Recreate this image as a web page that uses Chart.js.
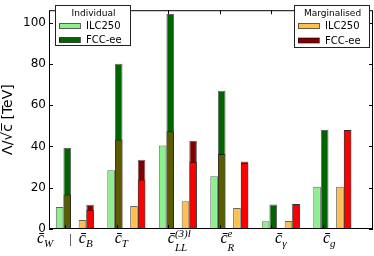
<!DOCTYPE html>
<html>
<head>
<meta charset="utf-8">
<script src="https://cdn.jsdelivr.net/npm/chart.js@4.4.1/dist/chart.umd.min.js"></script>
<style>
  html, body { margin: 0; padding: 0; background: #fff; }
</style>
</head>
<body>
<canvas id="chartCanvas" width="374" height="256"></canvas>
<script>
// operators along the x axis (first group holds c_W for individual and c_B for marginalised)
const categories = ['c̄_W | c̄_B', 'c̄_T', 'c̄_LL^(3)l', 'c̄_R^e', 'c̄_γ', 'c̄_g'];

// Lambda / sqrt(c) reach in TeV, individual fits
const ilcIndividual = [10.7, 28.5, 40.5, 25.6, 3.7, 20.5];
const fccIndividualLow = [16.7, 43.3, 47.4, 36.3, null, null];
const fccIndividual = [39.2, 80.0, 104.2, 67.0, 11.9, 48.0];

// marginalised fits
const ilcMarginalised = [4.3, 11.2, 13.5, 10.2, 3.9, 20.5];
const fccMarginalisedLow = [9.3, 24.0, 32.6, 32.1, 12.1, 48.0];
const fccMarginalised = [11.8, 33.5, 42.6, 32.7, 12.1, 48.0];

const yTicks = [0, 20, 40, 60, 80, 100];

const colors = {
  ilcInd: '#8cf08c',
  fccIndLow: '#5b5b00',
  fccInd: '#006400',
  ilcMarg: '#ffbf4d',
  fccMargLow: '#ff0000',
  fccMarg: '#800000'
};
const edge = 'rgba(0,0,0,0.6)';

function bars(values) {
  return values.map((v, i) => ({ x: i, y: v }));
}

function makeSet(label, values, color, stack) {
  return {
    label: label,
    data: bars(values),
    backgroundColor: color,
    borderColor: edge,
    borderWidth: 1,
    borderSkipped: 'start',
    stack: stack,
    barPercentage: 1,
    categoryPercentage: 0.74
  };
}

// split "c̄_LL^(3)l" into base, subscript, superscript
function parseLabel(s) {
  const m = s.match(/^([^_^]+)(?:_([^^]+))?(?:\^(.+))?$/);
  return { base: m[1], sub: m[2] || '', sup: m[3] || '' };
}

const baseFont = 'italic 16px "Liberation Serif"';
const smallFont = 'italic 11px "Liberation Serif"';

function mathWidth(ctx, label) {
  if (label === '|') { ctx.font = '13px "Liberation Serif"'; return ctx.measureText('|').width; }
  const p = parseLabel(label);
  ctx.font = baseFont;
  const wb = ctx.measureText(p.base).width;
  ctx.font = smallFont;
  return wb + Math.max(ctx.measureText(p.sub).width, ctx.measureText(p.sup).width);
}

function drawMath(ctx, label, x0, y) {
  if (label === '|') {
    ctx.font = '13px "Liberation Serif"';
    ctx.fillText('|', x0, y);
    return;
  }
  const p = parseLabel(label);
  ctx.font = baseFont;
  const wb = ctx.measureText(p.base).width;
  ctx.fillText(p.base, x0, y);
  ctx.font = smallFont;
  ctx.fillText(p.sub, x0 + wb, y + (p.sup ? 8 : 4));
  if (p.sup) ctx.fillText(p.sup, x0 + wb, y - 6);
}

function drawLegend(ctx, box, title, items) {
  ctx.fillStyle = '#fff';
  ctx.fillRect(box.x, box.y, box.w, box.h);
  ctx.strokeStyle = '#222';
  ctx.lineWidth = 1;
  ctx.strokeRect(box.x + 0.5, box.y + 0.5, box.w, box.h);
  ctx.fillStyle = '#000';
  ctx.textBaseline = 'middle';
  ctx.textAlign = 'center';
  ctx.font = '9px "DejaVu Sans"';
  ctx.fillText(title, box.x + box.w / 2 + 1, box.y + 8.5);
  ctx.textAlign = 'left';
  ctx.font = '10px "DejaVu Sans"';
  items.forEach((it, i) => {
    const cy = box.y + box.rows[i];
    ctx.fillStyle = it.color;
    ctx.fillRect(box.x + 4, cy - 2.5, 21, 5);
    ctx.strokeStyle = edge;
    ctx.strokeRect(box.x + 4.5, cy - 2.5, 21, 5);
    ctx.fillStyle = '#000';
    ctx.fillText(it.label, box.x + 31, cy + 0.5);
  });
}

const framePlugin = {
  id: 'frame',
  afterDatasetsDraw(chart) {
    const { ctx, chartArea: a, scales } = chart;
    ctx.save();
    ctx.strokeStyle = '#000';
    ctx.lineWidth = 1;
    ctx.strokeRect(a.left + 0.5, a.top + 0.5, a.right - a.left - 1, a.bottom - a.top - 1);
    ctx.beginPath();
    yTicks.forEach(v => {
      const py = Math.round(scales.y.getPixelForValue(v)) + 0.5;
      ctx.moveTo(a.left, py); ctx.lineTo(a.left + 4, py);
      ctx.moveTo(a.right, py); ctx.lineTo(a.right - 4, py);
    });
    categories.forEach((c, i) => {
      const px = Math.round(scales.x.getPixelForValue(i - 0.19)) + 0.5;
      ctx.moveTo(px, a.top); ctx.lineTo(px, a.top + 4);
      ctx.moveTo(px, a.bottom); ctx.lineTo(px, a.bottom - 4);
    });
    ctx.stroke();
    ctx.restore();
  },
  afterDraw(chart) {
    const { ctx, scales } = chart;
    ctx.save();
    // x labels
    const shift = [-10, -5, 1.5, -2, 0, -3];
    ctx.fillStyle = '#000';
    ctx.textBaseline = 'alphabetic';
    ctx.textAlign = 'left';
    categories.forEach((label, i) => {
      const parts = label.split(' | ');
      const pieces = parts.length > 1 ? [parts[0], '|', parts[1]] : parts;
      const gaps = [16, 7];
      const widths = pieces.map(p => mathWidth(ctx, p));
      let total = widths.reduce((s, w) => s + w, 0);
      for (let k = 0; k < pieces.length - 1; k++) total += gaps[k];
      let x0 = scales.x.getPixelForValue(i) + shift[i] - total / 2;
      pieces.forEach((p, k) => {
        drawMath(ctx, p, x0, 243);
        x0 += widths[k] + (gaps[k] || 0);
      });
    });
    // the two legends
    const ds = chart.data.datasets;
    drawLegend(ctx, { x: 55, y: 5, w: 75, h: 40, rows: [21, 35] }, 'Individual',
      [{ label: ds[0].label, color: ds[0].backgroundColor }, { label: ds[2].label, color: ds[2].backgroundColor }]);
    drawLegend(ctx, { x: 294, y: 5, w: 75, h: 42, rows: [21, 35.5] }, 'Marginalised',
      [{ label: ds[4].label, color: ds[4].backgroundColor }, { label: ds[6].label, color: ds[6].backgroundColor }]);
    ctx.restore();
  }
};

const ctx = document.getElementById('chartCanvas').getContext('2d');
const chart = new Chart(ctx, {
  type: 'bar',
  data: {
    datasets: [
      makeSet('ILC250', ilcIndividual, colors.ilcInd, 'indILC'),
      makeSet('FCC-ee (low)', fccIndividualLow, colors.fccIndLow, 'indFCC'),
      makeSet('FCC-ee', fccIndividual, colors.fccInd, 'indFCC'),
      makeSet('', categories.map(() => null), 'rgba(0,0,0,0)', 'gap'),
      makeSet('ILC250', ilcMarginalised, colors.ilcMarg, 'margILC'),
      makeSet('FCC-ee (low)', fccMarginalisedLow, colors.fccMargLow, 'margFCC'),
      makeSet('FCC-ee', fccMarginalised, colors.fccMarg, 'margFCC')
    ]
  },
  options: {
    responsive: false,
    animation: false,
    devicePixelRatio: 1,
    layout: { padding: { top: 1, right: 1, left: 0, bottom: 0 } },
    plugins: {
      legend: { display: false },
      tooltip: { enabled: false }
    },
    scales: {
      x: {
        type: 'linear',
        offset: false,
        stacked: true,
        min: -0.502,
        max: 5.79,
        grid: { display: false, offset: false },
        border: { display: false },
        ticks: { display: false },
        afterBuildTicks: s => { s.ticks = categories.map((c, i) => ({ value: i })); },
        afterFit: s => { s.height = 27; }
      },
      y: {
        stacked: false,
        min: 0,
        max: 106,
        grid: { display: false, drawTicks: false },
        border: { display: false },
        ticks: {
          color: '#000',
          padding: 3,
          font: { family: 'DejaVu Sans', size: 12 }
        },
        afterBuildTicks: s => { s.ticks = yTicks.map(v => ({ value: v })); },
        title: {
          display: true,
          text: 'Λ/√c̅ [TeV]',
          color: '#000',
          font: { family: 'DejaVu Sans', size: 14 },
          padding: { top: 0, bottom: 0 }
        },
        afterFit: s => { s.width = 49; }
      }
    }
  },
  plugins: [framePlugin]
});
</script>
</body>
</html>
